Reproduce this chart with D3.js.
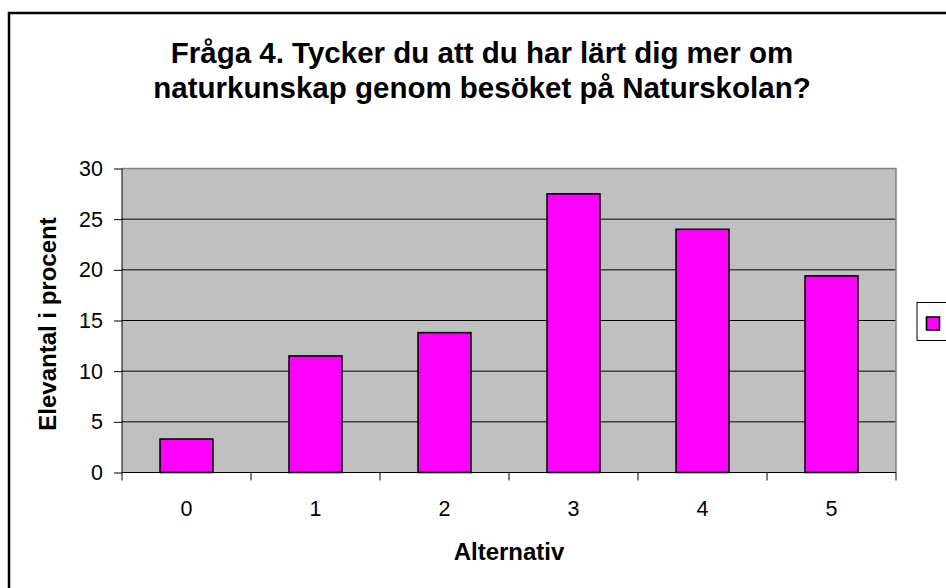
<!DOCTYPE html>
<html>
<head>
<meta charset="utf-8">
<script src="https://cdn.jsdelivr.net/npm/d3@7"></script>
<style>
  body { margin: 0; background: #fff; }
  text { font-family: "Liberation Sans", Arial, sans-serif; fill: #000; }
</style>
</head>
<body>
<div class="chart"></div>
<script>

// data
var categories = ["0", "1", "2", "3", "4", "5"];
var values = [3.3, 11.5, 13.8, 27.5, 24.0, 19.4];
var yTicks = [0, 5, 10, 15, 20, 25, 30];
var titleLines = ["Fråga 4. Tycker du att du har lärt dig mer om",
                  "naturkunskap genom besöket på Naturskolan?"];

var width = 946, height = 588;
var plot = { left: 122, right: 896, top: 168.5, bottom: 472.5 };

var svg = d3.select(".chart")
    .append("svg")
    .attr("width", width)
    .attr("height", height);

// outer chart frame (right and bottom run off the picture)
svg.append("rect")
    .attr("x", 9).attr("y", 13)
    .attr("width", 1000).attr("height", 1000)
    .attr("fill", "#fff")
    .attr("stroke", "#000")
    .attr("stroke-width", 2.5);

// scales
var x = d3.scaleBand()
    .domain(categories)
    .range([plot.left, plot.right]);

var y = d3.scaleLinear()
    .domain([0, 30])
    .range([plot.bottom, plot.top]);

// plot background
svg.append("rect")
    .attr("x", plot.left).attr("y", plot.top)
    .attr("width", plot.right - plot.left)
    .attr("height", plot.bottom - plot.top)
    .attr("fill", "#c0c0c0");

// gridlines
svg.selectAll(".grid")
    .data(yTicks.slice(1, -1))
    .enter()
    .append("line")
    .attr("x1", plot.left).attr("x2", plot.right)
    .attr("y1", function(d) { return y(d); })
    .attr("y2", function(d) { return y(d); })
    .attr("stroke", "#000")
    .attr("stroke-width", 1);

// gray top and right border of plot area
svg.append("path")
    .attr("d", "M" + plot.left + "," + plot.top + "H" + plot.right + "V" + plot.bottom)
    .attr("fill", "none")
    .attr("stroke", "#808080")
    .attr("stroke-width", 1.5);

// bars
var barW = x.bandwidth() * 0.41;
svg.selectAll(".bar")
    .data(values)
    .enter()
    .append("rect")
    .attr("x", function(d, i) { return x(categories[i]) + x.bandwidth() / 2 - barW / 2; })
    .attr("y", function(d) { return y(d); })
    .attr("width", barW)
    .attr("height", function(d) { return y(0) - y(d); })
    .attr("fill", "#ff00ff")
    .attr("stroke", "#000")
    .attr("stroke-width", 1.6);

// y axis
var yAxis = svg.append("g")
    .attr("transform", "translate(" + plot.left + ",0)")
    .call(d3.axisLeft(y).tickValues(yTicks).tickSize(8).tickPadding(11).tickFormat(d3.format("d")));
yAxis.select(".domain").attr("stroke", "#000").attr("d", "M0," + plot.top + "V" + plot.bottom);
yAxis.selectAll("text").style("font-size", "21.5px").style("font-family", "Liberation Sans, Arial, sans-serif");

// x axis, ticks on category boundaries
var xAxis = svg.append("g")
    .attr("transform", "translate(0," + plot.bottom + ")");
xAxis.append("line")
    .attr("x1", plot.left).attr("x2", plot.right)
    .attr("stroke", "#000");
xAxis.selectAll(".xtick")
    .data(categories.concat(["end"]))
    .enter()
    .append("line")
    .attr("x1", function(d, i) { return plot.left + i * x.step(); })
    .attr("x2", function(d, i) { return plot.left + i * x.step(); })
    .attr("y1", 0).attr("y2", 8)
    .attr("stroke", "#000");
xAxis.selectAll(".xlabel")
    .data(categories)
    .enter()
    .append("text")
    .attr("x", function(d) { return x(d) + x.bandwidth() / 2; })
    .attr("y", 43)
    .attr("text-anchor", "middle")
    .style("font-size", "21.5px")
    .text(function(d) { return d; });

// axis titles
svg.append("text")
    .attr("x", (plot.left + plot.right) / 2)
    .attr("y", 560)
    .attr("text-anchor", "middle")
    .style("font-size", "24px")
    .style("font-weight", "bold")
    .text("Alternativ");

svg.append("text")
    .attr("transform", "translate(56,324) rotate(-90)")
    .attr("text-anchor", "middle")
    .style("font-size", "24px")
    .style("font-weight", "bold")
    .text("Elevantal i procent");

// title
svg.selectAll(".title")
    .data(titleLines)
    .enter()
    .append("text")
    .attr("x", 482)
    .attr("y", function(d, i) { return 63 + i * 35; })
    .attr("text-anchor", "middle")
    .style("font-size", "29.5px")
    .style("font-weight", "bold")
    .text(function(d) { return d; });

// legend (cut off at the right edge)
svg.append("rect")
    .attr("x", 917).attr("y", 302.5)
    .attr("width", 60).attr("height", 38)
    .attr("fill", "#fff")
    .attr("stroke", "#000")
    .attr("stroke-width", 1);
svg.append("rect")
    .attr("x", 926.5).attr("y", 317)
    .attr("width", 13).attr("height", 13)
    .attr("fill", "#ff00ff")
    .attr("stroke", "#000")
    .attr("stroke-width", 1.6);

</script>
</body>
</html>
